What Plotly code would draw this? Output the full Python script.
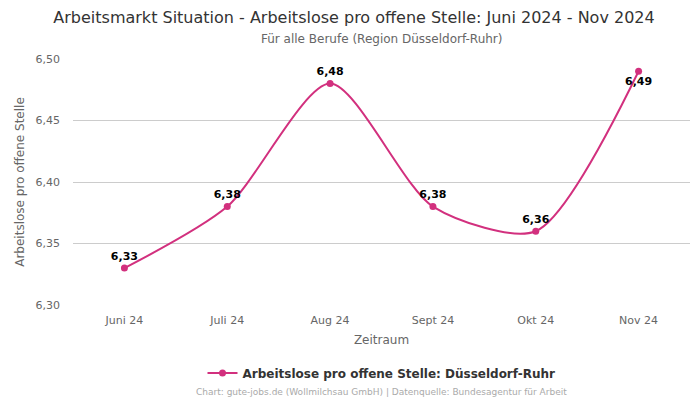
import plotly.graph_objects as go

categories = ["Juni 24", "Juli 24", "Aug 24", "Sept 24", "Okt 24", "Nov 24"]
values = [6.33, 6.38, 6.48, 6.38, 6.36, 6.49]
labels = ["6,33", "6,38", "6,48", "6,38", "6,36", "6,49"]
tick_vals = [6.30, 6.35, 6.40, 6.45, 6.50]
tick_text = ["6,30", "6,35", "6,40", "6,45", "6,50"]
series_name = "Arbeitslose pro offene Stelle: Düsseldorf-Ruhr"

color = "#d2307e"
font = "DejaVu Sans"

positions = ["top center"] * (len(values) - 1) + ["bottom center"]

# page body has an 8px default margin; the figure is drawn offset by 8px
OFF = 8
W, H = 700 - OFF, 400 - OFF
T = 59 - OFF
B = H - (305 - OFF)
L = 73 - OFF
R = W - (690 - OFF)
plot_h = H - T - B

fig = go.Figure()
fig.add_trace(go.Scatter(
    x=categories, y=values, mode="lines+markers+text",
    name=series_name,
    line=dict(color=color, width=2, shape="spline", smoothing=0.75),
    marker=dict(color=color, size=7),
    text=labels, textposition=positions,
    textfont=dict(family=font, size=11, color="#000000", weight="bold"),
    cliponaxis=False,
))

fig.update_layout(
    width=W, height=H,
    margin=dict(l=L, r=R, t=T, b=B, autoexpand=False),
    paper_bgcolor="white", plot_bgcolor="white",
    font=dict(family=font, color="#666666"),
    title=dict(text="Arbeitsmarkt Situation - Arbeitslose pro offene Stelle: Juni 2024 - Nov 2024",
               x=0.5, xanchor="center", y=1 - (17 - OFF) / H, yanchor="middle",
               font=dict(size=16, color="#333333", family=font)),
    showlegend=True,
    legend=dict(orientation="h", x=0.5, xanchor="center", y=-(373 - 305) / plot_h, yanchor="middle",
                font=dict(size=12, color="#333333", family=font, weight="bold")),
    xaxis=dict(type="category", range=[-0.5, 5.5], showgrid=False, showline=False, automargin=False,
               ticks="", tickfont=dict(size=11, color="#666666"), ticklabelstandoff=7,
               title=dict(text="Zeitraum", font=dict(size=12, color="#666666"), standoff=9)),
    yaxis=dict(range=[6.30, 6.50], tickvals=tick_vals, ticktext=tick_text, automargin=False,
               showgrid=True, gridcolor="#cccccc", gridwidth=1, zeroline=False,
               tickfont=dict(size=11, color="#666666"), ticks="", ticklen=0, ticklabelstandoff=12,
               title=dict(text="Arbeitslose pro offene Stelle", font=dict(size=12, color="#666666"), standoff=8)),
    annotations=[
        dict(text="Für alle Berufe (Region Düsseldorf-Ruhr)", x=0.5, xref="paper",
             y=1 + (59 - 39) / plot_h, yref="paper", yanchor="middle",
             showarrow=False, font=dict(size=12, color="#666666", family=font)),
        dict(text="Chart: gute-jobs.de (Wollmilchsau GmbH) | Datenquelle: Bundesagentur für Arbeit",
             x=0.5, xref="paper", y=-(392 - 305) / plot_h, yref="paper", yanchor="middle", showarrow=False,
             font=dict(size=9, color="#aaaaaa", family=font)),
    ],
)

fig.write_html("out.html")
